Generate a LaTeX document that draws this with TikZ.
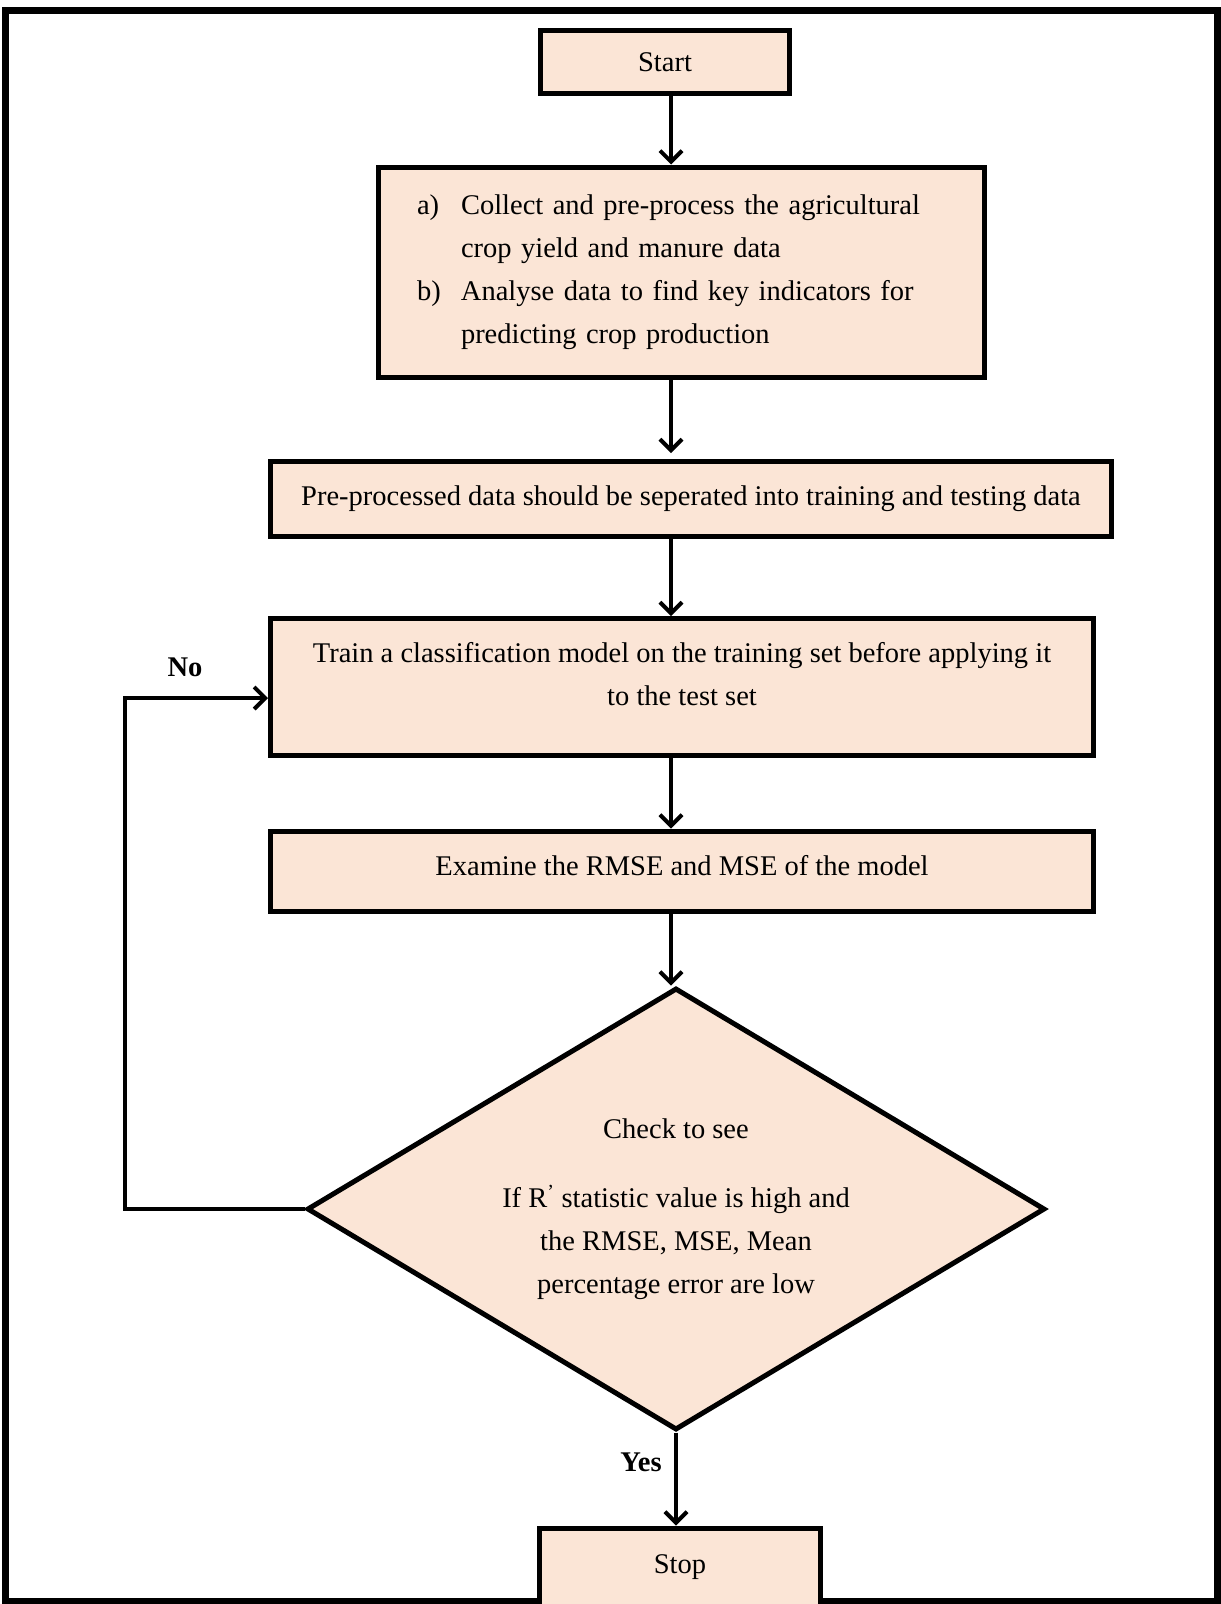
\documentclass[tikz,border=0pt]{standalone}
\usepackage{fontspec}
\setmainfont{Liberation Serif}
\usetikzlibrary{shapes.geometric,arrows.meta}
\definecolor{peach}{HTML}{FBE5D6}

\begin{document}
\begin{tikzpicture}[x=1pt,y=-1pt,
      every node/.style = {font=\fontsize{28.5}{43}\selectfont},
      stepbox/.style = {shape=rectangle, draw, line width=5pt,
        fill=peach, align=center, inner sep=0pt},
      decision/.style = {shape=diamond, draw, line width=5pt,
        fill=peach, align=center, inner sep=0pt, shape aspect=1.67},
      flow/.style = {line width=4pt, -{Straight Barb[length=11pt,width=22pt]}},
      answer/.style = {font=\fontsize{28.5}{43}\selectfont\bfseries}]
  \useasboundingbox (0,0) rectangle (1221,1604);
  \draw[line width=7pt] (5,10) rectangle (1217,1601);

  \node[stepbox, minimum width=249pt, minimum height=63pt] (start) at (665,62) {Start};
  \node[stepbox, minimum width=606pt, minimum height=210pt, text width=528pt, align=left]
    (collect) at (681,272)
    {\makebox[44pt][l]{a)}Collect and pre-process the agricultural\\
     \hspace*{44pt}crop yield and manure data\\
     \makebox[44pt][l]{b)}Analyse data to find key indicators for\\
     \hspace*{44pt}predicting crop production};
  \node[stepbox, minimum width=841pt, minimum height=75pt] (split) at (691,499)
    {Pre-processed data should be seperated into training and testing data};
  \node[stepbox, minimum width=823pt, minimum height=137pt, text depth=26pt] (train) at (682,687)
    {Train a classification model on the training set before applying it\\to the test set};
  \node[stepbox, minimum width=823pt, minimum height=80pt, text depth=12pt] (examine) at (682,871)
    {Examine the RMSE and MSE of the model};
  \node[decision, minimum width=738pt, minimum height=442pt] (check) at (676,1209)
    {Check to see\\[26pt]If R\textsuperscript{'} statistic value is high and\\the RMSE, MSE, Mean\\percentage error are low};
  \node[stepbox, minimum width=281pt, minimum height=78pt] (stop) at (680,1567) {Stop};

  \coordinate (ax) at (671,0);
  \coordinate (nobend) at (125,698);
  \draw[flow] (start.south -| ax) -- (collect.north -| ax);
  \draw[flow, shorten >=6pt] (collect.south -| ax) -- (split.north -| ax);
  \draw[flow] (split.south -| ax) -- (train.north -| ax);
  \draw[flow] (train.south -| ax) -- (examine.north -| ax);
  \draw[flow] (examine.south -| ax) -- (check.north -| ax);
  \draw[flow] (check.south) -- (check.south |- stop.north);
  \draw[flow] (check.west) -| (nobend) -- (nobend -| train.west);

  \node[answer] (no) at (185,667) {No};
  \node[answer] (yes) at (641,1462) {Yes};
\end{tikzpicture}
\end{document}
